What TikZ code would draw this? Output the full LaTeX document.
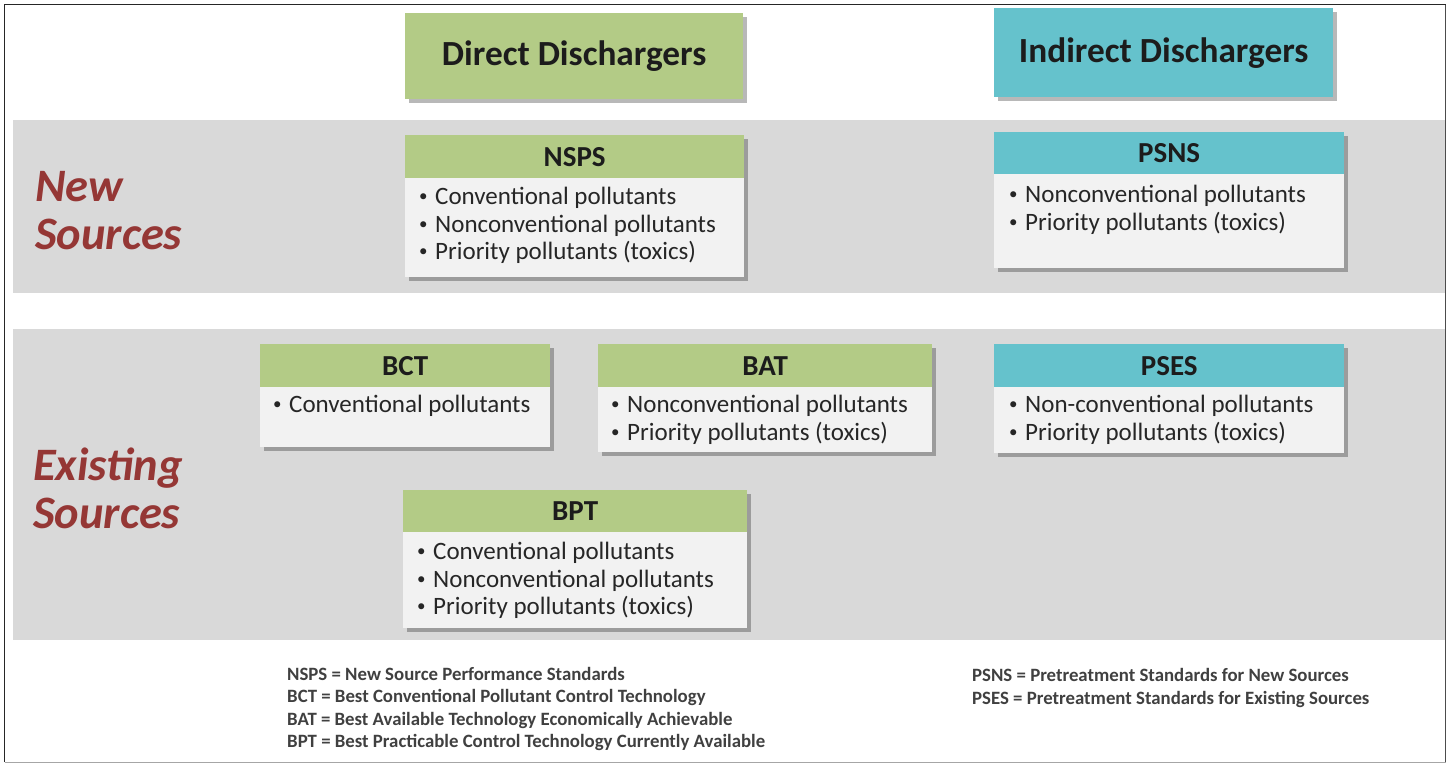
\documentclass[tikz,border=0pt]{standalone}
\usepackage{fontspec}
\setmainfont{Carlito}
\usetikzlibrary{shadows}
\definecolor{hgreen}{HTML}{B3CB86}
\definecolor{hteal}{HTML}{65C2CC}
\definecolor{bodyc}{HTML}{F2F2F2}
\definecolor{bandc}{HTML}{D9D9D9}
\definecolor{srcred}{HTML}{953735}
\definecolor{hdrtext}{HTML}{1C1C1C}
\definecolor{bodytext}{HTML}{262626}
\definecolor{legtext}{HTML}{404040}
\newcommand\mybul{\makebox[16pt][l]{\raisebox{2.6pt}{\fontsize{17}{17}\selectfont •}}}
\tikzset{
  shad/.style={drop shadow={shadow xshift=4pt,shadow yshift=-4pt,opacity=0.28,fill=black}},
  bodybox/.style={fill=bodyc,draw=none,inner sep=0pt,anchor=north west,shad},
  hdr/.style={draw=none,inner sep=0pt,anchor=north west,text=hdrtext,font=\fontsize{29}{32}\selectfont\bfseries},
  bighdr/.style={draw=none,inner sep=0pt,anchor=north west,text=hdrtext,shad,font=\fontsize{35.3}{38}\selectfont\bfseries},
  item/.style={anchor=base west,inner sep=0pt,text=bodytext,font=\fontsize{25}{28}\selectfont},
  srclabel/.style={anchor=base west,inner sep=0pt,text=srcred,font=\fontsize{46.5}{48}\selectfont\bfseries\itshape},
  legend/.style={anchor=base west,inner sep=0pt,text=legtext,font=\fontsize{18.8}{22}\selectfont\bfseries}
}
\begin{document}
\begin{tikzpicture}[x=1pt,y=-1pt]
\useasboundingbox (0,0) rectangle (1447,764);
\fill[white] (0,0) rectangle (1447,764);
% bands
\fill[bandc] (13,120) rectangle (1446,293);
\fill[bandc] (13,329) rectangle (1446,640);
% frame
\draw[line width=1.5pt,black!85] (4.5,762) -- (4.5,4.5) -- (1445.5,4.5);
\draw[line width=1.5pt,black!70] (1445.5,4.5) -- (1445.5,762);
\draw[line width=1.2pt,black!35] (4.5,762.5) -- (1445.5,762.5);

% column headers
\node[bighdr,fill=hgreen,minimum width=338pt,minimum height=86pt] (direct) at (405,13) {Direct Dischargers};
\node[bighdr,fill=hteal,minimum width=339pt,minimum height=89pt] (indirect) at (994,8) {Indirect Dischargers};

% row labels
\node[srclabel] (newA) at (35,201) {New};
\node[srclabel] (newB) at (35,249) {Sources};
\node[srclabel] (exA) at (33,480) {Existing};
\node[srclabel] (exB) at (33,528) {Sources};

% NSPS
\node[bodybox,minimum width=339pt,minimum height=142pt] (nsps) at (405,135) {};
\node[hdr,fill=hgreen,minimum width=339pt,minimum height=43pt] (nspsH) at (405,135) {NSPS};
\node[item] (nsps1) at (419,204) {\mybul Conventional pollutants};
\node[item] (nsps2) at (419,232) {\mybul Nonconventional pollutants};
\node[item] (nsps3) at (419,259) {\mybul Priority pollutants (toxics)};

% PSNS
\node[bodybox,minimum width=350pt,minimum height=136pt] (psns) at (994,132) {};
\node[hdr,fill=hteal,minimum width=350pt,minimum height=42pt] (psnsH) at (994,132) {PSNS};
\node[item] (psns1) at (1009,202) {\mybul Nonconventional pollutants};
\node[item] (psns2) at (1009,230) {\mybul Priority pollutants (toxics)};

% BCT
\node[bodybox,minimum width=290pt,minimum height=103pt] (bct) at (260,344) {};
\node[hdr,fill=hgreen,minimum width=290pt,minimum height=43pt] (bctH) at (260,344) {BCT};
\node[item] (bct1) at (273,412) {\mybul Conventional pollutants};

% BAT
\node[bodybox,minimum width=334pt,minimum height=108pt] (bat) at (598,344) {};
\node[hdr,fill=hgreen,minimum width=334pt,minimum height=43pt] (batH) at (598,344) {BAT};
\node[item] (bat1) at (611,412) {\mybul Nonconventional pollutants};
\node[item] (bat2) at (611,440) {\mybul Priority pollutants (toxics)};

% PSES
\node[bodybox,minimum width=350pt,minimum height=109pt] (pses) at (994,344) {};
\node[hdr,fill=hteal,minimum width=350pt,minimum height=43pt] (psesH) at (994,344) {PSES};
\node[item] (pses1) at (1009,412) {\mybul Non-conventional pollutants};
\node[item] (pses2) at (1009,440) {\mybul Priority pollutants (toxics)};

% BPT
\node[bodybox,minimum width=344pt,minimum height=138pt] (bpt) at (403,490) {};
\node[hdr,fill=hgreen,minimum width=344pt,minimum height=42pt] (bptH) at (403,490) {BPT};
\node[item] (bpt1) at (417,559) {\mybul Conventional pollutants};
\node[item] (bpt2) at (417,587) {\mybul Nonconventional pollutants};
\node[item] (bpt3) at (417,614) {\mybul Priority pollutants (toxics)};

% legends
\node[legend] (lg1) at (287,680) {NSPS = New Source Performance Standards};
\node[legend] (lg2) at (287,702) {BCT = Best Conventional Pollutant Control Technology};
\node[legend] (lg3) at (287,725) {BAT = Best Available Technology Economically Achievable};
\node[legend] (lg4) at (287,747) {BPT = Best Practicable Control Technology Currently Available};
\node[legend] (lg5) at (972,681) {PSNS = Pretreatment Standards for New Sources};
\node[legend] (lg6) at (972,704) {PSES = Pretreatment Standards for Existing Sources};
\end{tikzpicture}
\end{document}
